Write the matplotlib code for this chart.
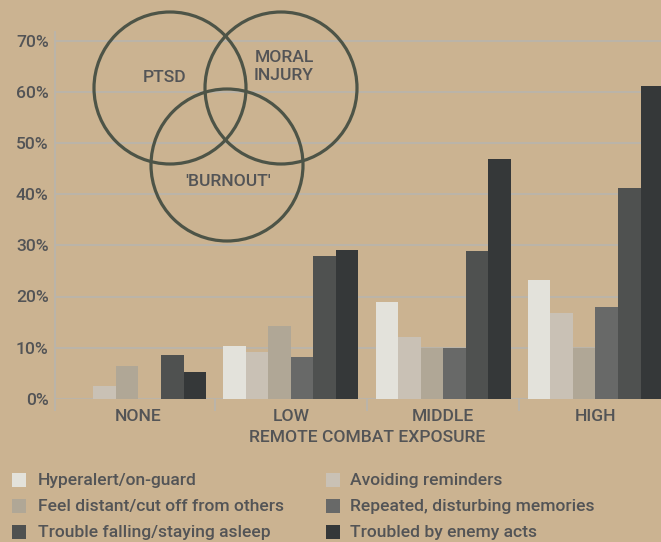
import matplotlib
matplotlib.use("Agg")
import matplotlib.pyplot as plt
from matplotlib.patches import Circle, Rectangle
import numpy as np

# ---- data ----
categories = ["NONE", "LOW", "MIDDLE", "HIGH"]
series_names = [
    "Hyperalert/on-guard",
    "Avoiding reminders",
    "Feel distant/cut off from others",
    "Repeated, disturbing memories",
    "Trouble falling/staying asleep",
    "Troubled by enemy acts",
]
hyperalert = [0.0, 10.3, 19.0, 23.3]
avoiding = [2.5, 9.1, 12.0, 16.7]
distant = [6.4, 14.2, 10.0, 10.0]
repeated = [0.0, 8.1, 10.0, 18.0]
asleep = [8.5, 28.0, 29.0, 41.2]
enemy = [5.2, 29.1, 46.9, 61.1]
series_values = [hyperalert, avoiding, distant, repeated, asleep, enemy]
y_ticks = [0, 10, 20, 30, 40, 50, 60, 70]
y_tick_labels = ["0%", "10%", "20%", "30%", "40%", "50%", "60%", "70%"]
x_label = "REMOTE COMBAT EXPOSURE"
venn_labels = ["PTSD", "MORAL\nINJURY", "'BURNOUT'"]

# ---- style ----
BG = "#cbb391"
TXT = "#535456"
GRID = "#bab5ab"
CIRC = "#4d5447"
colors = ["#e3e2db", "#c9c1b5", "#b0a796", "#686968", "#4f5150", "#353839"]
FONT = ["Roboto", "DejaVu Sans"]
FS = 12.6
FW = "medium"

plt.rcParams["font.family"] = FONT
plt.rcParams["font.weight"] = FW

W, H = 661, 542
fig = plt.figure(figsize=(W / 100, H / 100), dpi=100, facecolor=BG)

y0_px, ytop_px = 398.7, 32.0
ppu = (398.7 - 41.0) / 70.0
ymax = (y0_px - ytop_px) / ppu
ax = fig.add_axes([55 / W, (H - y0_px) / H, 1 - 55 / W, (y0_px - ytop_px) / H])
ax.set_facecolor(BG)

x = np.arange(len(categories))
bw = 0.148
for i, (vals, c) in enumerate(zip(series_values, colors)):
    ax.bar(x + (i - 2.5) * bw, vals, width=bw, color=c, zorder=3, linewidth=0)

xl = (-0.548, 3.43)
ax.set_xlim(*xl)
ax.set_ylim(0, ymax)
ax.set_yticks(y_ticks)
ax.set_yticklabels(y_tick_labels)
ax.set_xticks(x)
ax.set_xticklabels(categories)
ax.set_xticks([xl[0] + 0.002, 0.5, 1.5, 2.5], minor=True)
ax.tick_params(axis="x", which="major", length=0, pad=7.5, labelsize=FS, labelcolor=TXT)
ax.tick_params(axis="x", which="minor", length=8.6, width=1.3, color=GRID, direction="out")
ax.tick_params(axis="y", length=0, pad=4.5, labelsize=FS, labelcolor=TXT)
ax.grid(axis="y", color=GRID, linewidth=1.3, zorder=0)
ax.set_axisbelow(True)
for s in ["top", "right", "bottom"]:
    ax.spines[s].set_visible(False)
ax.spines["left"].set_color(GRID)
ax.spines["left"].set_linewidth(1.3)

# overlay in pixel coordinates
ov = fig.add_axes([0, 0, 1, 1], facecolor="none")
ov.set_xlim(0, W)
ov.set_ylim(H, 0)
ov.axis("off")

ov.text(367, 437.5, x_label, ha="center", va="center", fontsize=FS, color=TXT)

# venn diagram
centers = [(170, 88), (281, 88), (227, 165)]
r = 76
for (cx, cy) in centers:
    ov.add_patch(Circle((cx, cy), r, fill=False, edgecolor=CIRC, linewidth=2.3, zorder=5))
ov.text(165, 77, venn_labels[0], ha="center", va="center", fontsize=FS, color=TXT)
ov.text(284, 66, venn_labels[1], ha="center", va="center", fontsize=FS, color=TXT,
        linespacing=1.25)
ov.text(228, 182, venn_labels[2], ha="center", va="center", fontsize=FS, color=TXT)

# legend (row-major, two columns)
rows_y = [480, 506, 532]
col_sq_x = [12, 326]
col_txt_x = [38, 350]
for i, (name, c) in enumerate(zip(series_names, colors)):
    row, col = i // 2, i % 2
    yy = rows_y[row]
    ov.add_patch(Rectangle((col_sq_x[col], yy - 7.5), 14, 14, facecolor=c, edgecolor="none"))
    ov.text(col_txt_x[col], yy, name, ha="left", va="center", fontsize=FS, color=TXT)

fig.savefig("out.png", dpi=100, facecolor=BG)
